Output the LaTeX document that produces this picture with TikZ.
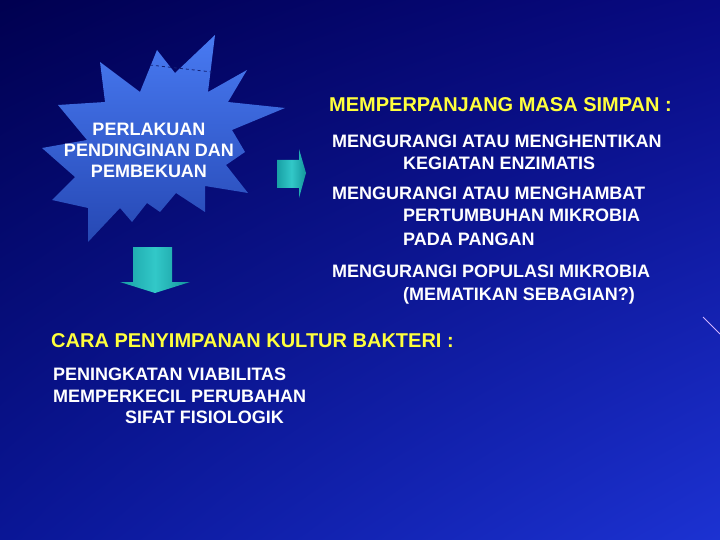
\documentclass[tikz,border=0pt]{standalone}
\usepackage{fontspec}
\setmainfont{Liberation Sans}
\usetikzlibrary{shadings}
\definecolor{bgA}{RGB}{0,0,80}
\definecolor{bgB}{RGB}{8,10,130}
\definecolor{bgC}{RGB}{10,22,150}
\definecolor{bgD}{RGB}{28,50,210}
\definecolor{starTop}{RGB}{72,122,242}
\definecolor{starBot}{RGB}{38,72,180}
\definecolor{starDash}{RGB}{20,35,120}
\definecolor{streak}{RGB}{210,180,255}
\definecolor{tealL}{RGB}{24,160,165}
\definecolor{tealM}{RGB}{50,200,200}
\definecolor{tealR}{RGB}{20,150,155}
\definecolor{ylw}{RGB}{255,255,60}
\begin{document}
\begin{tikzpicture}[x=1pt,y=-1pt,
  wtxt/.style={text=white,font=\fontsize{18}{22}\selectfont\bfseries,inner sep=0pt,anchor=base west},
  ytxt/.style={text=ylw,font=\fontsize{20}{24}\selectfont\bfseries,inner sep=0pt,anchor=base west},
  tealfill/.style={left color=tealL,right color=tealR,middle color=tealM}]
\useasboundingbox (0,0) rectangle (720,540);
% background
\shade[upper left=bgA,upper right=bgB,lower left=bgC,lower right=bgD]
  (0,0) rectangle (720,540);
% streak
\draw[streak,line width=1pt] (703,317) -- (720,334);
% star
\shade[top color=starTop,bottom color=starBot]
  (100,62) -- (140,92) -- (157,50) -- (175,73) -- (215,35) -- (208,92) -- (247,70) -- (228,102)
  -- (285,108) -- (232,130) -- (245,152) -- (226,165) -- (248,193) -- (205,186) -- (205,212)
  -- (176,193) -- (160,212) -- (147,203) -- (132,222) -- (120,208) -- (88,242) -- (88,208)
  -- (52,200) -- (75,177) -- (42,148) -- (87,140) -- (58,105) -- (105,102) -- cycle;
\draw[starDash,dashed,line width=0.8pt] (150,65) -- (212,72);
\node[text=white,font=\fontsize{18}{21}\selectfont\bfseries,align=center,inner sep=0pt] (star) at (149,150)
  {PERLAKUAN\\PENDINGINAN DAN\\PEMBEKUAN};
% arrows
\shade[tealfill] (277,160) -- (299,160) -- (299,149) -- (306,173) -- (299,198) -- (299,188) -- (277,188) -- cycle;
\shade[tealfill] (133,247) -- (172,247) -- (172,282) -- (190,282) -- (155,293) -- (120,282) -- (133,282) -- cycle;
% right texts
\node[ytxt] (t1) at (329,112) {MEMPERPANJANG MASA SIMPAN :};
\node[wtxt] (a1) at (332,148) {MENGURANGI ATAU MENGHENTIKAN};
\node[wtxt] (a2) at (403,170) {KEGIATAN ENZIMATIS};
\node[wtxt] (b1) at (332,200) {MENGURANGI ATAU MENGHAMBAT};
\node[wtxt] (b2) at (403,222) {PERTUMBUHAN MIKROBIA};
\node[wtxt] (b3) at (403,245) {PADA PANGAN};
\node[wtxt] (c1) at (332,277) {MENGURANGI POPULASI MIKROBIA};
\node[wtxt] (c2) at (403,300) {(MEMATIKAN SEBAGIAN?)};
% bottom texts
\node[ytxt] (t2) at (51,347) {CARA PENYIMPANAN KULTUR BAKTERI :};
\node[wtxt] (d1) at (53,380) {PENINGKATAN VIABILITAS};
\node[wtxt] (d2) at (53,402) {MEMPERKECIL PERUBAHAN};
\node[wtxt] (d3) at (125,423) {SIFAT FISIOLOGIK};
\end{tikzpicture}
\end{document}
